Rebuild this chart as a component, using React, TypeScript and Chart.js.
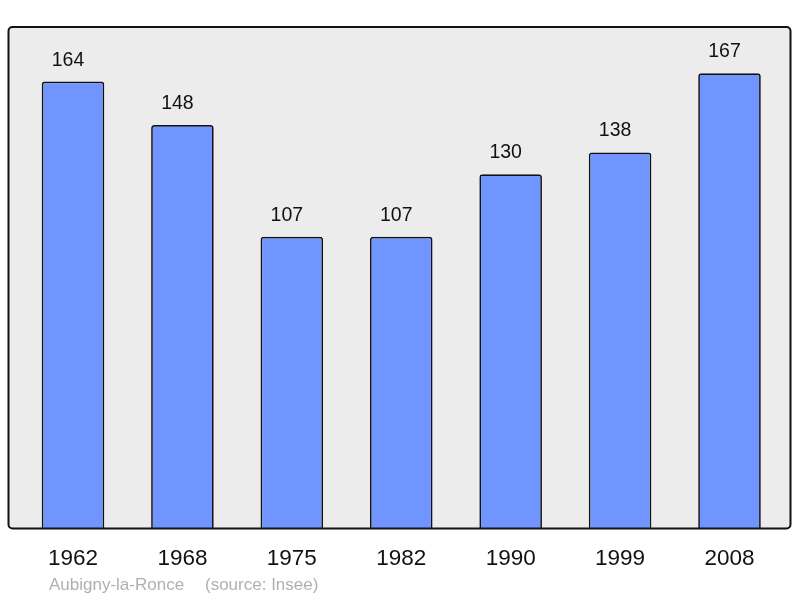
import React, { useEffect, useRef } from "react";
import { Chart, registerables } from "chart.js";

Chart.register(...registerables);

const years = ["1962", "1968", "1975", "1982", "1990", "1999", "2008"];
const population = [164, 148, 107, 107, 130, 138, 167];
const sourceLabel = "Aubigny-la-Ronce";
const sourceNote = "(source: Insee)";

const FONT = '"Liberation Sans", Arial, sans-serif';

const framePlugin = {
  id: "frame",
  beforeDraw(chart: any) {
    const { ctx, chartArea } = chart;
    const x0 = 8.5, x1 = 790.5, y0 = chartArea.top, y1 = chartArea.bottom;
    ctx.save();
    ctx.beginPath();
    ctx.roundRect(x0, y0, x1 - x0, y1 - y0, 4);
    ctx.fillStyle = "#ececec";
    ctx.fill();
    ctx.restore();
  },
  afterDatasetsDraw(chart: any) {
    const { ctx, chartArea } = chart;
    const x0 = 8.5, x1 = 790.5, y0 = chartArea.top, y1 = chartArea.bottom;
    ctx.save();
    ctx.beginPath();
    ctx.roundRect(x0, y0, x1 - x0, y1 - y0, 4);
    ctx.lineWidth = 2;
    ctx.strokeStyle = "#111";
    ctx.stroke();

    const xs = chart.scales.x;
    const ys = chart.scales.y;
    ctx.fillStyle = "#111";
    ctx.textAlign = "center";
    ctx.textBaseline = "alphabetic";
    ctx.font = `19.5px ${FONT}`;
    population.forEach((v, i) => {
      const x = xs.getPixelForValue(i);
      const y = ys.getPixelForValue(v);
      ctx.fillText(String(v), x - 5, y - 16);
    });
    ctx.font = `22.5px ${FONT}`;
    years.forEach((yr, i) => {
      const x = xs.getPixelForValue(i);
      ctx.fillText(yr, x, 565);
    });
    ctx.textAlign = "left";
    ctx.font = `17px ${FONT}`;
    ctx.fillStyle = "#b0b0b0";
    ctx.fillText(sourceLabel, 49, 590);
    ctx.fillText(sourceNote, 205, 590);
    ctx.restore();
  },
};

export default function App() {
  const ref = useRef<HTMLCanvasElement>(null);
  useEffect(() => {
    if (!ref.current) return;
    const chart = new Chart(ref.current, {
      type: "bar",
      data: {
        labels: years,
        datasets: [
          {
            data: population,
            backgroundColor: "#7095ff",
            borderColor: "#111",
            borderWidth: 1.7,
            borderRadius: 3,
            barPercentage: 0.572,
            categoryPercentage: 1,
          },
        ],
      },
      options: {
        responsive: false,
        animation: false,
        devicePixelRatio: 1,
        layout: { padding: { left: 18.3, right: 15.8, top: 27, bottom: 69.5 } },
        plugins: { legend: { display: false }, tooltip: { enabled: false }, title: { display: false } },
        scales: {
          x: { display: false },
          y: { display: false, min: 0, max: 184 },
        },
      },
      plugins: [framePlugin],
    });
    return () => chart.destroy();
  }, []);
  return (
    <div style={{ position: "absolute", left: 0, top: 0, width: 800, height: 598, background: "#fff" }}>
      <canvas ref={ref} width={800} height={598} style={{ width: 800, height: 598, display: "block" }} />
    </div>
  );
}
